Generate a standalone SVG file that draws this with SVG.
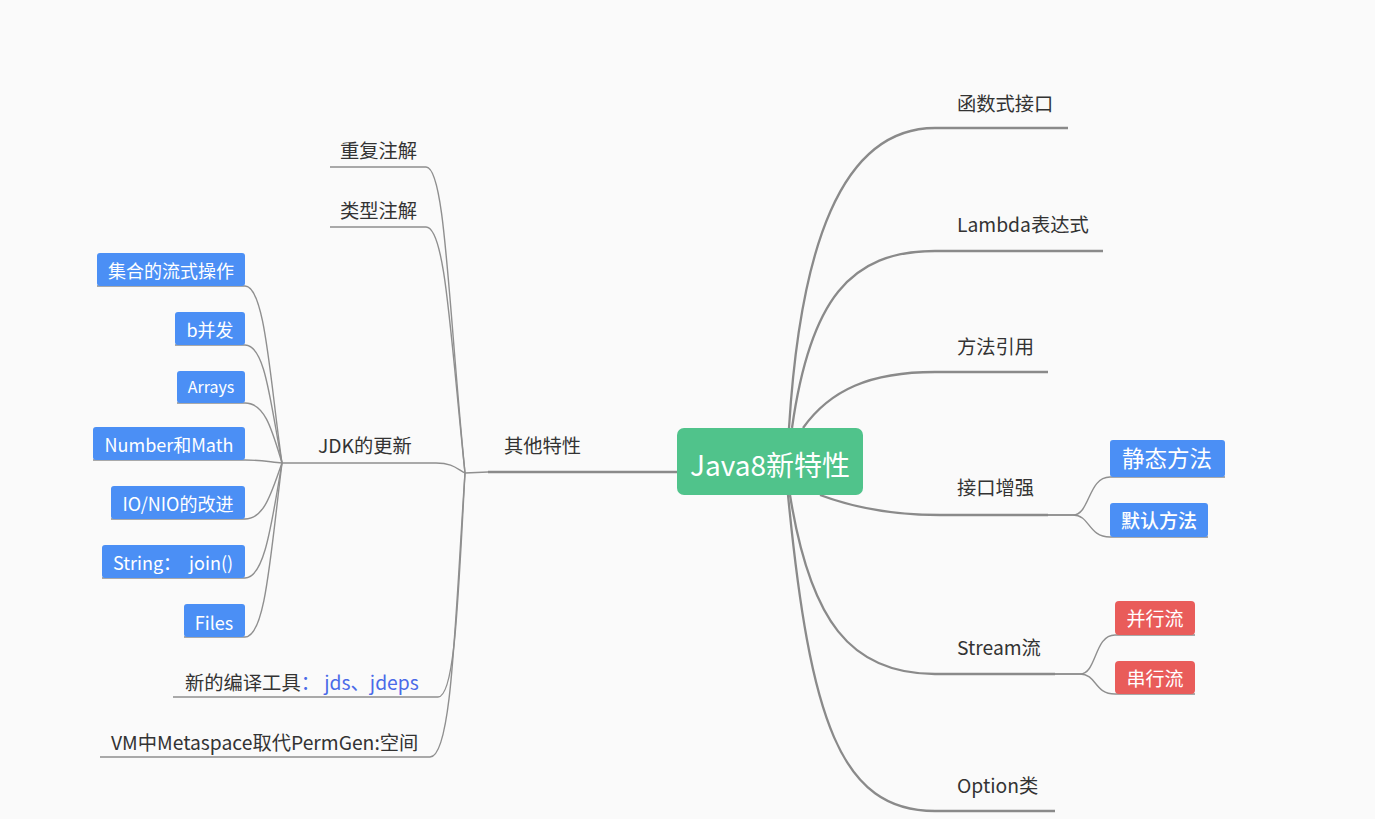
<svg xmlns="http://www.w3.org/2000/svg" width="1375" height="819" viewBox="0 0 1375 819">
<style>
text{font-family:"Noto Sans CJK SC","Noto Sans",sans-serif}
.lbl{font-size:19.3px;fill:#333}
.bt{font-size:18px;fill:#fff;text-anchor:middle}
.thick{fill:none;stroke:#8a8a8a;stroke-width:2.3}
.thin{fill:none;stroke:#8f8f8f;stroke-width:1.4}
.blue{fill:#4b8ff5}
.red{fill:#e95c5a}
</style>
<rect width="1375" height="819" fill="#fafafa"/>
<g id="connectors">
<path class="thick" d="M789 428 C800 250 840 128 935 128 L1068 128"/>
<path class="thick" d="M792 428 C810 300 850 251 935 251 L1103 251"/>
<path class="thick" d="M803 428 C830 390 870 372 935 372 L1048 372"/>
<path class="thick" d="M820 495 C860 510 900 515 940 515 L1048 515"/>
<path class="thick" d="M790 495 C810 620 850 674 935 674 L1055 674"/>
<path class="thick" d="M788 495 C810 720 840 811 935 811 L1055 811"/>
<path class="thin" d="M1048 515 L1073 515 C1090 515 1088 477 1110 477 L1225 477"/>
<path class="thin" d="M1048 515 L1073 515 C1090 515 1088 537 1110 537 L1208 537"/>
<path class="thin" d="M1055 674 L1080 674 C1097 674 1094 635 1115 635 L1195 635"/>
<path class="thin" d="M1055 674 L1080 674 C1097 674 1094 694 1115 694 L1195 694"/>
<path class="thick" d="M677 472 L488 472"/>
<path class="thin" d="M488 472 L465 473"/>
<path class="thin" d="M330 167 L426 167 C445 167 448 300 465 473"/>
<path class="thin" d="M330 227 L426 227 C445 227 450 330 465 473"/>
<path class="thin" d="M282 463 L436 463 C452 463 456 468 465 473"/>
<path class="thin" d="M173 697 L438 697 C455 697 458 600 465 473"/>
<path class="thin" d="M100 757 L430 757 C452 757 455 620 465 473"/>
<path class="thin" d="M97 286 L245 286 C265 286 270 380 282 463"/>
<path class="thin" d="M175 345 L245 345 C265 345 270 400 282 463"/>
<path class="thin" d="M177 403 L245 403 C265 403 272 430 282 463"/>
<path class="thin" d="M93 460 L245 460 C260 460 270 462 282 463"/>
<path class="thin" d="M111 519 L245 519 C265 519 272 490 282 463"/>
<path class="thin" d="M102 578 L245 578 C265 578 272 520 282 463"/>
<path class="thin" d="M184 637 L245 637 C265 637 270 560 282 463"/>
</g>
<g id="root">
<rect x="677" y="428" width="186" height="67" rx="7" fill="#50c38b"/>
<text x="770" y="476" font-size="28" fill="#fff" text-anchor="middle">Java8新特性</text>
</g>
<g id="n-hanshu"><text class="lbl" x="957" y="111">函数式接口</text></g>
<g id="n-lambda"><text class="lbl" x="957" y="232">Lambda表达式</text></g>
<g id="n-fangfa"><text class="lbl" x="957" y="354">方法引用</text></g>
<g id="n-jiekou"><text class="lbl" x="957" y="495">接口增强</text></g>
<g id="n-jingtai"><rect class="blue" x="1110" y="440" width="115" height="37" rx="3"/><text class="bt" x="1167" y="467" style="font-size:22.5px">静态方法</text></g>
<g id="n-moren"><rect class="blue" x="1110" y="503" width="98" height="34" rx="3"/><text class="bt" x="1159" y="528" style="font-size:19px;font-weight:500">默认方法</text></g>
<g id="n-stream"><text class="lbl" x="957" y="655">Stream流</text></g>
<g id="n-bingxing"><rect class="red" x="1115" y="601" width="80" height="34" rx="4"/><text class="bt" x="1155" y="626" style="font-size:19px">并行流</text></g>
<g id="n-chuanxing"><rect class="red" x="1115" y="661" width="80" height="33" rx="4"/><text class="bt" x="1155" y="686" style="font-size:19px">串行流</text></g>
<g id="n-option"><text class="lbl" x="957" y="793">Option类</text></g>
<g id="n-qita"><text class="lbl" x="504" y="453">其他特性</text></g>
<g id="n-chongfu"><text class="lbl" x="340" y="158">重复注解</text></g>
<g id="n-leixing"><text class="lbl" x="340" y="218">类型注解</text></g>
<g id="n-jdk"><text class="lbl" x="318" y="453">JDK的更新</text></g>
<g id="n-jihe"><rect class="blue" x="97" y="253" width="148" height="33" rx="3"/><text class="bt" x="171" y="278">集合的流式操作</text></g>
<g id="n-bingfa"><rect class="blue" x="175" y="312" width="70" height="33" rx="3"/><text class="bt" x="210" y="337">b并发</text></g>
<g id="n-arrays"><rect class="blue" x="177" y="371" width="68" height="32" rx="3"/><text class="bt" x="211" y="393" style="font-size:16px">Arrays</text></g>
<g id="n-number"><rect class="blue" x="93" y="427" width="152" height="33" rx="3"/><text class="bt" x="169" y="452">Number和Math</text></g>
<g id="n-io"><rect class="blue" x="111" y="486" width="134" height="33" rx="3"/><text class="bt" x="178" y="511">IO/NIO的改进</text></g>
<g id="n-string"><rect class="blue" x="102" y="545" width="143" height="33" rx="3"/><text class="bt" x="173" y="570" xml:space="preserve">String：  join()</text></g>
<g id="n-files"><rect class="blue" x="184" y="604" width="61" height="33" rx="3"/><text class="bt" x="214" y="630">Files</text></g>
<g id="n-bianyi"><text class="lbl" x="185" y="690">新的编译工具<tspan fill="#4a6ae8" xml:space="preserve">： jds、jdeps</tspan></text></g>
<g id="n-vm"><text class="lbl" x="111" y="750">VM中Metaspace取代PermGen:空间</text></g>
</svg>
